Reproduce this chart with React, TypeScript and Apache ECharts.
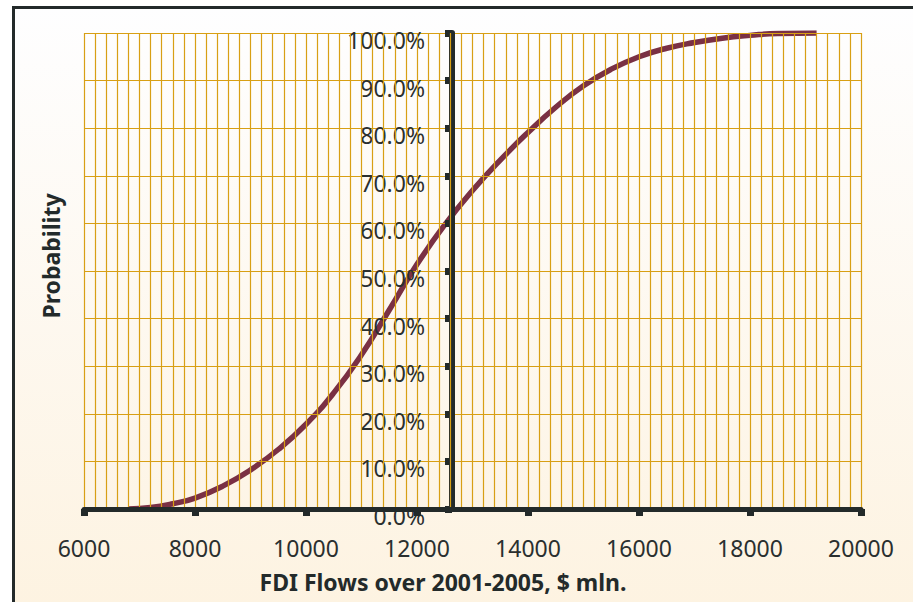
import React, { useEffect, useRef } from "react";
import * as echarts from "echarts";

const fdiFlows = [6800, 7200, 7600, 8000, 8500, 9000, 9500, 10000, 10500, 11000, 11500, 12000, 12500, 13000, 13500, 14000, 14500, 15000, 15500, 16000, 16500, 17000, 17500, 18000, 18500, 19200];
const probability = [0, 0.3, 1.1, 2.3, 4.8, 8.2, 12.5, 17.8, 24.4, 32.4, 41.8, 51.4, 59.7, 66.9, 73.3, 79.1, 84.4, 88.9, 92.4, 95.0, 96.8, 98.0, 98.9, 99.5, 99.9, 100.0];

const xAxisTitle = "FDI Flows over 2001-2005, $ mln.";
const yAxisTitle = "Probability";

export default function App() {
  const ref = useRef<HTMLDivElement>(null);
  useEffect(() => {
    if (!ref.current) return;
    const chart = echarts.init(ref.current, null, { renderer: "svg" });
    const dark = "#232a2a";
    const grid = "#d89f14";
    const font = "'Noto Sans', 'Open Sans', sans-serif";
    chart.setOption({
      animation: false,
      backgroundColor: "#ffffff",
      graphic: [
        {
          type: "rect",
          z: -10,
          shape: { x: 13.5, y: 7.5, width: 1000, height: 700 },
          style: {
            fill: new echarts.graphic.LinearGradient(0, 0, 0, 1, [
              { offset: 0, color: "#fefeff" },
              { offset: 1, color: "#fdf1dc" },
            ]),
            stroke: dark,
            lineWidth: 3,
          },
        },
        {
          type: "text",
          x: 51,
          y: 256,
          rotation: Math.PI / 2,
          style: {
            text: yAxisTitle,
            font: `bold 23px ${font}`,
            fill: dark,
            align: "center",
            verticalAlign: "middle",
          },
        },
        {
          type: "text",
          x: 443,
          y: 582,
          style: {
            text: xAxisTitle,
            font: `bold 23px ${font}`,
            fill: dark,
            align: "center",
            verticalAlign: "middle",
          },
        },
      ],
      grid: { left: 84, right: 52, top: 33, bottom: 93, containLabel: false },
      xAxis: {
        type: "value",
        min: 6000,
        max: 20000,
        interval: 2000,
        z: 5,
        axisLine: { show: true, onZero: false, lineStyle: { color: dark, width: 5 } },
        axisTick: { show: true, length: 7, lineStyle: { color: dark, width: 7 } },
        axisLabel: {
          margin: 27,
          color: "#2a2f2f",
          fontSize: 23,
          fontFamily: font,
          formatter: (v: number) => String(v),
        },
        splitLine: { show: true, lineStyle: { color: grid, width: 1.2 } },
        minorTick: { show: true, splitNumber: 10, length: 0 },
        minorSplitLine: { show: true, lineStyle: { color: grid, width: 1.2 } },
      },
      yAxis: {
        type: "value",
        min: 0,
        max: 100,
        interval: 10,
        offset: -368,
        z: 4,
        axisLine: { show: true, onZero: false, lineStyle: { color: dark, width: 6 } },
        axisTick: { show: true, length: 7, lineStyle: { color: dark, width: 7 } },
        axisLabel: {
          margin: 27,
          color: "#2a2f2f",
          fontSize: 23,
          fontFamily: font,
          verticalAlign: "top",
          lineHeight: 14,
          formatter: (v: number) => v.toFixed(1) + "%",
        },
        splitLine: { show: true, lineStyle: { color: grid, width: 1.2 } },
      },
      series: [
        {
          type: "line",
          data: fdiFlows.map((x, i) => [x, probability[i]]),
          smooth: 0.5,
          showSymbol: false,
          symbol: "none",
          z: 3,
          lineStyle: { color: "#7a3044", width: 5.5 },
        },
      ],
    });
    return () => chart.dispose();
  }, []);
  return (
    <div
      ref={ref}
      style={{ position: "absolute", left: 0, top: 0, width: 913, height: 602 }}
    />
  );
}
